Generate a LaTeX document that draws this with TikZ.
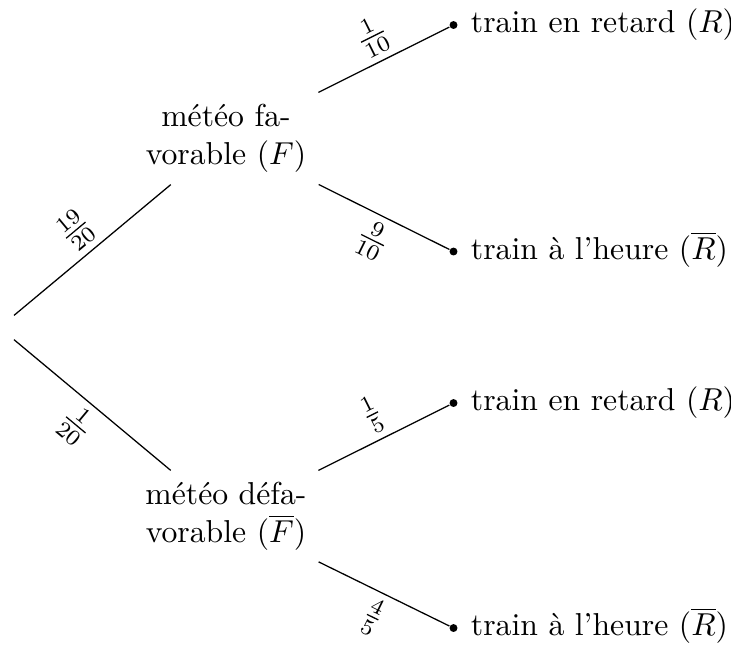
\documentclass[tikz,border=0pt]{standalone}
\begin{document}
\begin{tikzpicture}[x=0.3155pt,y=-0.3155pt,
  midnode/.style={align=center, minimum width=58.05pt, minimum height=28.7pt, inner sep=0pt},
  leafdot/.style={circle, fill=black, inner sep=0pt, minimum size=2.5pt},
  lab/.style={sloped, midway, inner sep=2pt},
  leaftxt/.style={anchor=base west, inner sep=0pt, xshift=5.3pt, yshift=-2.5pt},
  edge/.style={draw=black, line width=0.4pt}]
\useasboundingbox (0,0) rectangle (731,646);
\node[inner sep=0pt, minimum width=0pt, minimum height=7.26pt] (root) at (14,327.5) {};
\node[midnode] (F) at (226,138.5) {météo fa-\\vorable ($F$)};
\node[midnode] (Fb) at (226,516.5) {météo défa-\\vorable ($\overline{F}$)};
\node[leafdot] (R1) at (453.5,25) {};
\node[leafdot] (R2) at (453.5,251.5) {};
\node[leafdot] (R3) at (453.5,403) {};
\node[leafdot] (R4) at (453.5,628) {};
\node[leaftxt] (T1) at (R1.center) {train en retard ($R$)};
\node[leaftxt] (T2) at (R2.center) {train à l'heure ($\overline{R}$)};
\node[leaftxt] (T3) at (R3.center) {train en retard ($R$)};
\node[leaftxt] (T4) at (R4.center) {train à l'heure ($\overline{R}$)};
\draw[edge] (root.north) -- node[lab,above]{$\frac{19}{20}$} (F);
\draw[edge] (root.south) -- node[lab,below]{$\frac{1}{20}$} (Fb);
\draw[edge] (F) -- node[lab,above]{$\frac{1}{10}$} (R1);
\draw[edge] (F) -- node[lab,below]{$\frac{9}{10}$} (R2);
\draw[edge] (Fb) -- node[lab,above]{$\frac{1}{5}$} (R3);
\draw[edge] (Fb) -- node[lab,below]{$\frac{4}{5}$} (R4);
\end{tikzpicture}
\end{document}
